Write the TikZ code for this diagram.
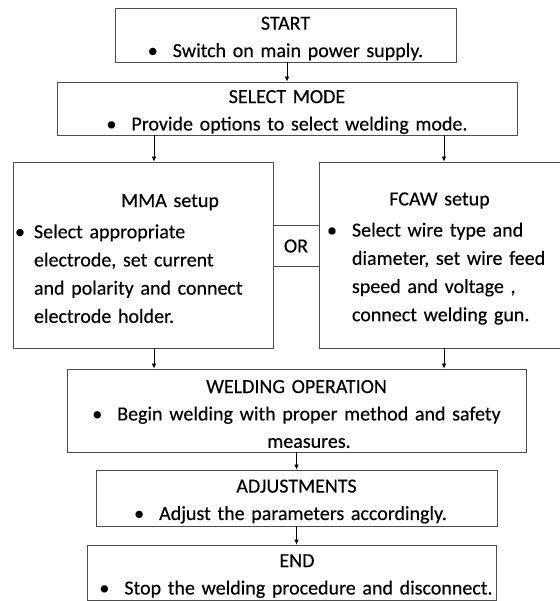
\documentclass[tikz,border=0pt]{standalone}
\usepackage{fontspec}
\setmainfont{Carlito}[FakeBold=0.3]
\usetikzlibrary{arrows.meta}

\newcommand\flowfont{\fontsize{20}{27.4}\selectfont}
\newcommand\sidefont{\fontsize{20}{28.2}\selectfont}
\newcommand\blt{\makebox[25pt][l]{•}}
\newcommand\ind{\hspace*{25pt}}
\newcommand\hd{\rule{0pt}{20pt}}

\tikzset{
  stagebox/.style={draw=black!70, line width=0.9pt, inner sep=0pt, align=center, font=\flowfont},
  sidebox/.style={draw=black!70, line width=0.9pt, inner sep=0pt, align=left, font=\sidefont},
  flowarrow/.style={-{Latex[length=5pt,width=4.5pt]}, line width=0.7pt},
}

\begin{document}
\begin{tikzpicture}[x=1pt,y=-1pt]
	\useasboundingbox (0,0) rectangle (559,601);
	%COLUMNS
	\coordinate (lcol) at (154,0);
	\coordinate (rcol) at (444,0);

	%BOXES
	\node[stagebox, minimum width=341pt, minimum height=54pt, text width=341pt] (start) at (285.5,35)
		{\hd START\\ \blt Switch on main power supply.};
	\node[stagebox, minimum width=460pt, minimum height=53pt, text width=460pt] (select) at (287,108.5)
		{\hd SELECT MODE\\ \blt Provide options to select welding mode.};
	\node[sidebox, minimum width=260pt, minimum height=186pt, text width=260pt] (mma) at (143,255)
		{\hd\hspace*{157pt}\makebox[0pt]{MMA setup}\\[3pt]
		 \hspace*{2pt}\makebox[19pt][l]{•}Select appropriate\\ \hspace*{21pt}electrode, set current\\ \hspace*{21pt}and polarity and connect\\ \hspace*{21pt}electrode holder.};
	\node[sidebox, minimum width=260pt, minimum height=186pt, text width=260pt] (fcaw) at (449,255)
		{\hd\hspace*{120.5pt}\makebox[0pt]{FCAW setup}\\[3pt]
		 \hspace*{8pt}\blt Select wire type and\\ \hspace*{33pt}diameter, set wire feed\\ \hspace*{33pt}speed and voltage ,\\ \hspace*{33pt}connect welding gun.};
	\node[inner sep=0pt, minimum width=46pt, minimum height=40pt, font=\flowfont] (or) at (296,246) {OR};
	\draw[black!70, line width=0.9pt] (or.north west) -- (or.north east) (or.south west) -- (or.south east);
	\node[stagebox, minimum width=459pt, minimum height=83pt, text width=459pt] (weld) at (296.5,410.5)
		{\hd WELDING OPERATION\\ \blt Begin welding with proper method and safety\\ \ind measures.};
	\node[stagebox, minimum width=401pt, minimum height=56pt, text width=401pt] (adjust) at (296.5,498)
		{\hd ADJUSTMENTS\\ \blt Adjust the parameters accordingly.\rule{12pt}{0pt}};
	\node[stagebox, minimum width=409pt, minimum height=55pt, text width=409pt] (end) at (291.5,572.5)
		{\hd\hspace*{11pt}END\\ \hspace*{9pt}\blt Stop the welding procedure and disconnect.};

	%ARROWS
	\draw[flowarrow] (start.south -| select.north) -- (select.north);
	\draw[flowarrow] (select.south -| lcol) -- (mma.north -| lcol);
	\draw[flowarrow] (select.south -| rcol) -- (fcaw.north -| rcol);
	\draw[flowarrow] (mma.south -| lcol) -- (weld.north -| lcol);
	\draw[flowarrow] (fcaw.south -| rcol) -- (weld.north -| rcol);
	\draw[flowarrow] (weld.south) -- (adjust.north);
	\draw[flowarrow] (adjust.south) -- (adjust.south |- end.north);
\end{tikzpicture}
\end{document}
